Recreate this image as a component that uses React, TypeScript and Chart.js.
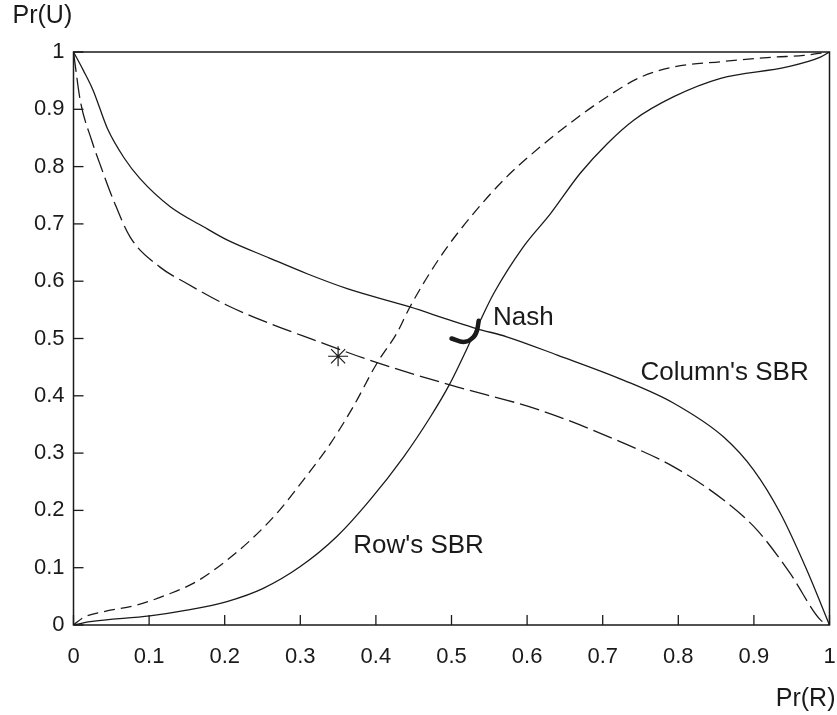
import React, { useEffect, useRef } from 'react';
import { Chart, registerables } from 'chart.js';

Chart.register(...registerables);

// ---------- data ----------
const tickValues = [0, 0.1, 0.2, 0.3, 0.4, 0.5, 0.6, 0.7, 0.8, 0.9, 1];
const xTickLabels = ['0', '0.1', '0.2', '0.3', '0.4', '0.5', '0.6', '0.7', '0.8', '0.9', '1'];
const yTickLabels = ['0', '0.1', '0.2', '0.3', '0.4', '0.5', '0.6', '0.7', '0.8', '0.9', '1'];

// Column's SBR (solid, decreasing)
const colSolidX = [0, 0.013, 0.026, 0.045, 0.067, 0.088, 0.128, 0.172, 0.203, 0.26, 0.309, 0.362, 0.445, 0.498, 0.534, 0.573, 0.64, 0.728, 0.794, 0.86, 0.9, 0.935, 0.97, 1];
const colSolidY = [1, 0.968, 0.933, 0.866, 0.815, 0.779, 0.73, 0.695, 0.672, 0.64, 0.613, 0.587, 0.555, 0.532, 0.517, 0.503, 0.471, 0.427, 0.387, 0.328, 0.27, 0.195, 0.096, 0];

// Column's dashed curve (decreasing)
const colDashX = [0, 0.009, 0.024, 0.037, 0.053, 0.075, 0.114, 0.15, 0.203, 0.26, 0.317, 0.392, 0.498, 0.617, 0.723, 0.794, 0.86, 0.904, 0.948, 0.988, 1];
const colDashY = [1, 0.915, 0.846, 0.797, 0.741, 0.677, 0.625, 0.596, 0.558, 0.526, 0.498, 0.462, 0.419, 0.375, 0.32, 0.276, 0.218, 0.166, 0.09, 0.009, 0];

// Row's SBR (solid, increasing)
const rowSolidX = [0, 0.022, 0.101, 0.15, 0.203, 0.251, 0.3, 0.348, 0.392, 0.437, 0.472, 0.497, 0.534, 0.556, 0.595, 0.631, 0.67, 0.706, 0.741, 0.794, 0.856, 0.944, 0.988, 1];
const rowSolidY = [0, 0.006, 0.016, 0.026, 0.041, 0.064, 0.102, 0.154, 0.218, 0.294, 0.363, 0.419, 0.52, 0.579, 0.66, 0.718, 0.788, 0.84, 0.881, 0.922, 0.954, 0.974, 0.991, 1];

// Row's dashed curve (increasing)
const rowDashX = [0, 0.013, 0.039, 0.084, 0.128, 0.163, 0.198, 0.234, 0.269, 0.304, 0.34, 0.37, 0.401, 0.428, 0.445, 0.485, 0.529, 0.573, 0.617, 0.662, 0.706, 0.75, 0.794, 0.856, 0.926, 0.966, 1];
const rowDashY = [0, 0.013, 0.023, 0.035, 0.055, 0.076, 0.108, 0.148, 0.195, 0.253, 0.317, 0.381, 0.456, 0.51, 0.555, 0.642, 0.718, 0.782, 0.834, 0.881, 0.922, 0.956, 0.974, 0.983, 0.991, 0.994, 1];

// asterisk point
const starX = [0.35];
const starY = [0.469];

// thick Nash arc
const nashX = [0.5, 0.516, 0.527, 0.534, 0.536];
const nashY = [0.5, 0.494, 0.5, 0.515, 0.531];

// text labels (data coordinates, baseline-left)
const labelTexts = ['Nash', "Column's SBR", "Row's SBR"];
const labelX = [0.555, 0.75, 0.37];
const labelY = [0.523, 0.427, 0.126];

const yAxisTitle = 'Pr(U)';
const xAxisTitle = 'Pr(R)';

const FONT = "'Liberation Sans', Arial, sans-serif";
const INK = '#1a1a1a';

const zip = (xs: number[], ys: number[]) => xs.map((x, i) => ({ x, y: ys[i] }));

const framePlugin = {
  id: 'frame',
  afterDatasetsDraw(chart: any) {
    const { ctx, chartArea: a, scales } = chart;
    ctx.save();
    ctx.strokeStyle = INK;
    ctx.lineWidth = 1.5;
    ctx.strokeRect(a.left, a.top, a.right - a.left, a.bottom - a.top);
    ctx.lineWidth = 1.3;
    tickValues.forEach((v) => {
      const px = scales.x.getPixelForValue(v);
      ctx.beginPath();
      ctx.moveTo(px, a.bottom);
      ctx.lineTo(px, a.bottom - 10);
      ctx.stroke();
      const py = scales.y.getPixelForValue(v);
      ctx.beginPath();
      ctx.moveTo(a.left, py);
      ctx.lineTo(a.left + 10, py);
      ctx.stroke();
    });
    ctx.fillStyle = INK;
    ctx.textBaseline = 'alphabetic';
    ctx.textAlign = 'left';
    ctx.font = `26px ${FONT}`;
    labelTexts.forEach((t, i) => {
      ctx.fillText(t, scales.x.getPixelForValue(labelX[i]), scales.y.getPixelForValue(labelY[i]));
    });
    ctx.font = `25px ${FONT}`;
    ctx.fillText(yAxisTitle, a.left - 61, a.top - 29);
    ctx.textAlign = 'right';
    ctx.fillText(xAxisTitle, a.right + 6, a.bottom + 81);
    ctx.restore();
  },
};

export default function App() {
  const ref = useRef<HTMLCanvasElement>(null);
  useEffect(() => {
    const lineBase = {
      showLine: true,
      pointRadius: 0,
      borderColor: INK,
      borderWidth: 1.3,
      fill: false,
      cubicInterpolationMode: 'monotone' as const,
    };
    const chart = new Chart(ref.current!, {
      type: 'scatter',
      data: {
        datasets: [
          { ...lineBase, label: "Column's SBR", data: zip(colSolidX, colSolidY) },
          { ...lineBase, label: 'Column dashed', data: zip(colDashX, colDashY), borderDash: [20, 6] },
          { ...lineBase, label: "Row's SBR", data: zip(rowSolidX, rowSolidY) },
          { ...lineBase, label: 'Row dashed', data: zip(rowDashX, rowDashY), borderDash: [11, 6] },
          { ...lineBase, label: 'Nash', data: zip(nashX, nashY), borderWidth: 4.5, borderCapStyle: 'round' },
          {
            label: 'star',
            data: zip(starX, starY),
            showLine: false,
            pointStyle: 'star',
            pointRadius: 10,
            borderColor: INK,
            backgroundColor: INK,
            borderWidth: 1.2,
          },
        ],
      },
      options: {
        animation: false,
        responsive: true,
        maintainAspectRatio: false,
        layout: { autoPadding: false, padding: { top: 52, right: 7.5, left: 0, bottom: 0 } },
        plugins: { legend: { display: false }, tooltip: { enabled: false } },
        scales: {
          x: {
            type: 'linear',
            min: 0,
            max: 1,
            afterBuildTicks: (s: any) => {
              s.ticks = tickValues.map((v) => ({ value: v }));
            },
            afterFit: (s: any) => {
              s.height = 90;
              s.paddingLeft = 0;
              s.paddingRight = 0;
            },
            ticks: {
              callback: (_v: any, i: number) => xTickLabels[i],
              font: { size: 22, family: FONT },
              color: INK,
              padding: 19,
              maxRotation: 0,
              autoSkip: false,
            },
            grid: { display: false, drawTicks: false },
            border: { display: false },
          },
          y: {
            type: 'linear',
            min: 0,
            max: 1,
            afterBuildTicks: (s: any) => {
              s.ticks = tickValues.map((v) => ({ value: v }));
            },
            afterFit: (s: any) => {
              s.width = 73.5;
              s.paddingTop = 0;
              s.paddingBottom = 0;
            },
            ticks: {
              callback: (_v: any, i: number) => yTickLabels[i],
              font: { size: 22, family: FONT },
              color: INK,
              padding: 9,
              autoSkip: false,
            },
            grid: { display: false, drawTicks: false },
            border: { display: false },
          },
        },
      },
      plugins: [framePlugin],
    });
    return () => chart.destroy();
  }, []);
  return (
    <div style={{ position: 'fixed', left: 0, top: 0, width: 837, height: 715, background: '#fff' }}>
      <canvas ref={ref} />
    </div>
  );
}
